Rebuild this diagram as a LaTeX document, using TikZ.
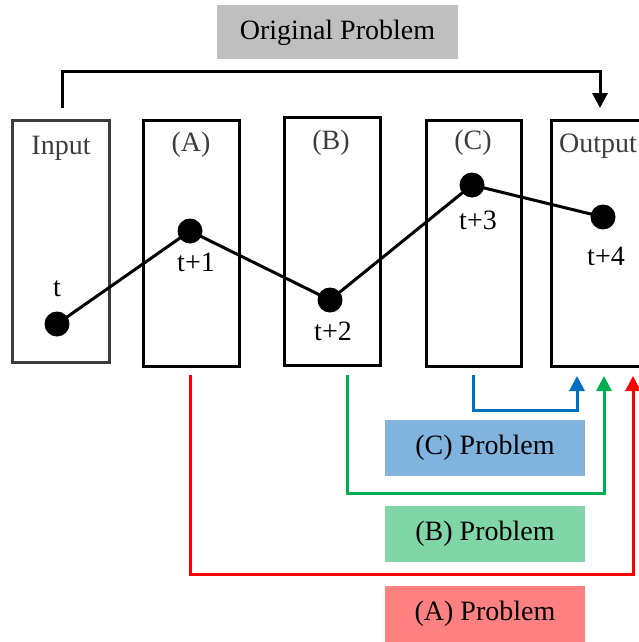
\documentclass[tikz,border=0pt]{standalone}
\usepackage{fontspec}
\setmainfont{Liberation Serif}
\usetikzlibrary{arrows.meta}
\definecolor{probgray}{RGB}{191,191,191}
\definecolor{probblue}{RGB}{128,179,222}
\definecolor{probgreen}{RGB}{128,214,166}
\definecolor{probred}{RGB}{255,128,128}
\definecolor{linkred}{RGB}{255,0,0}
\definecolor{linkgreen}{RGB}{0,176,80}
\definecolor{linkblue}{RGB}{0,112,192}
\definecolor{labelgray}{RGB}{60,60,60}
\begin{document}
\begin{tikzpicture}[x=1pt,y=-1pt,
  every node/.style={font=\fontsize{28}{32}\selectfont, inner sep=0pt, outer sep=0pt},
  stage/.style={draw=black, line width=3pt, minimum width=96pt, minimum height=246pt},
  stagelabel/.style={text=labelgray},
  point/.style={circle, fill=black, minimum size=25pt},
  steplabel/.style={text=black},
  problem/.style={minimum width=200pt, minimum height=56pt, text=black},
  trace/.style={line width=3pt},
  link/.style={line width=3pt, -{Triangle[width=15pt,length=15pt]}}]
\useasboundingbox (0,0) rectangle (639,642);
\clip (0,0) rectangle (639,642);

% original problem banner
\node[problem, fill=probgray, minimum width=241pt, minimum height=54pt] (orig) at (337.5,32) {};
\node[text=black] (origtext) at (337.5,33) {Original Problem};

% stage columns
\node[stage, draw=labelgray, line width=2.5pt, minimum width=97pt, minimum height=242pt] (inp) at (61,241.5) {};
\node[stage] (sa) at (191,243) {};
\node[stage, minimum height=248pt] (sb) at (332,241) {};
\node[stage, minimum width=95pt] (sc) at (473.5,243) {};
\node[stage] (sout) at (599,243) {};

\node[stagelabel] (linp) at (61,148) {Input};
\node[stagelabel] (la) at (191,145) {(A)};
\node[stagelabel] (lb) at (331,143) {(B)};
\node[stagelabel] (lc) at (473,143) {(C)};
\node[stagelabel] (lout) at (598,146) {Output};

% trajectory points
\node[point] (d0) at (57,324) {};
\node[point] (d1) at (190,231) {};
\node[point] (d2) at (330,300) {};
\node[point] (d3) at (472,185) {};
\node[point] (d4) at (603,217) {};
\draw[trace] (d0.center) -- (d1.center) -- (d2.center) -- (d3.center) -- (d4.center);

\node[steplabel] (t0) at (57,289) {t};
\node[steplabel] (t1) at (196,262) {t+1};
\node[steplabel] (t2) at (333,331) {t+2};
\node[steplabel] (t3) at (478,220) {t+3};
\node[steplabel] (t4) at (606,256) {t+4};

% original problem: input straight to output
\coordinate (os) at (62,108);
\coordinate (oe) at (600,108);
\draw[link] (os) -- ++(0,-37) -| (oe);

% sub-problems feeding the output
\coordinate (cs) at (473,375);
\coordinate (ce) at (577,376);
\draw[link, linkblue] (cs) -- ++(0,35) -| (ce);
\coordinate (bs) at (347,375);
\coordinate (be) at (604,376);
\draw[link, linkgreen] (bs) -- ++(0,118) -| (be);
\coordinate (as) at (190,375);
\coordinate (ae) at (633,376);
\draw[link, linkred] (as) -- ++(0,199) -| (ae);

\node[problem, fill=probblue] (pc) at (485,448) {(C) Problem};
\node[problem, fill=probgreen] (pb) at (485,534) {(B) Problem};
\node[problem, fill=probred] (pa) at (485,614) {(A) Problem};
\end{tikzpicture}
\end{document}
